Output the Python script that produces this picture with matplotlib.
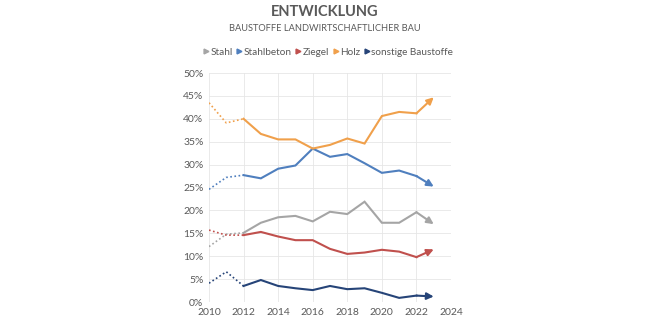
import numpy as np
import matplotlib.pyplot as plt
from matplotlib.lines import Line2D

plt.rcParams['font.family'] = ['Lato', 'DejaVu Sans']

years = np.arange(2010, 2024)

# shares in percent
stahl = [12.1, 14.8, 15.1, 17.3, 18.5, 18.8, 17.6, 19.7, 19.2, 21.9, 17.3, 17.3, 19.6, 17.0]
stahlbeton = [24.6, 27.2, 27.7, 27.0, 29.1, 29.8, 33.5, 31.7, 32.3, 30.3, 28.2, 28.7, 27.5, 25.2]
ziegel = [15.7, 14.6, 14.6, 15.3, 14.3, 13.5, 13.5, 11.6, 10.5, 10.8, 11.4, 11.0, 9.8, 11.5]
holz = [43.5, 39.1, 40.0, 36.7, 35.5, 35.5, 33.5, 34.3, 35.7, 34.6, 40.6, 41.5, 41.2, 44.7]
sonstige = [4.1, 6.6, 3.5, 4.8, 3.5, 3.0, 2.6, 3.5, 2.8, 3.0, 2.0, 0.9, 1.4, 1.2]

names = ['Stahl', 'Stahlbeton', 'Ziegel', 'Holz', 'sonstige Baustoffe']
series = [stahl, stahlbeton, ziegel, holz, sonstige]
colors = ['#A5A5A5', '#4F7FBE', '#C0504D', '#F0A04B', '#264478']

text_col = '#595959'

fig = plt.figure(figsize=(6.46, 3.23), dpi=100)
ax = fig.add_axes([209 / 646, 1 - 302 / 323, 242 / 646, 229 / 323])

for vals, c in zip(series, colors):
    v = np.array(vals)
    # estimated early years dotted
    ax.plot(years[:3], v[:3], color=c, lw=1.2, ls=(0, (1, 1.5)))
    ax.plot(years[2:-1], v[2:-1], color=c, lw=1.5, solid_joinstyle='miter')
    ax.annotate('', xy=(years[-1], v[-1]), xytext=(years[-2], v[-2]),
                arrowprops=dict(arrowstyle='-|>,head_length=0.4,head_width=0.2',
                                color=c, lw=1.5, shrinkA=0, shrinkB=0))

ax.set_xlim(2010, 2024)
ax.set_ylim(0, 50)
ax.set_xticks(np.arange(2010, 2025, 2))
ax.set_yticks(np.arange(0, 51, 5))
ax.set_yticklabels([f'{t}%' for t in range(0, 51, 5)])
ax.grid(True, color='#E6E6E6', lw=0.6)
ax.set_axisbelow(True)
for s in ax.spines.values():
    s.set_visible(False)
ax.tick_params(length=0, colors=text_col, labelsize=7.5, pad=4)

fig.text(0.503, 0.962, 'ENTWICKLUNG', ha='center', va='center',
         fontsize=10.5, fontweight='bold', color=text_col)
fig.text(0.503, 0.912, 'BAUSTOFFE LANDWIRTSCHAFTLICHER BAU', ha='center', va='center',
         fontsize=6.7, color=text_col)

handles = [Line2D([], [], ls='none', marker='>', color=c, markersize=3.5) for c in colors]
fig.legend(handles, names, loc='center', bbox_to_anchor=(0.507, 0.838), ncol=5,
           frameon=False, fontsize=7.2, labelcolor=text_col, handletextpad=0.0,
           columnspacing=0.3, handlelength=0.8)

fig.savefig('out.png', dpi=100)
